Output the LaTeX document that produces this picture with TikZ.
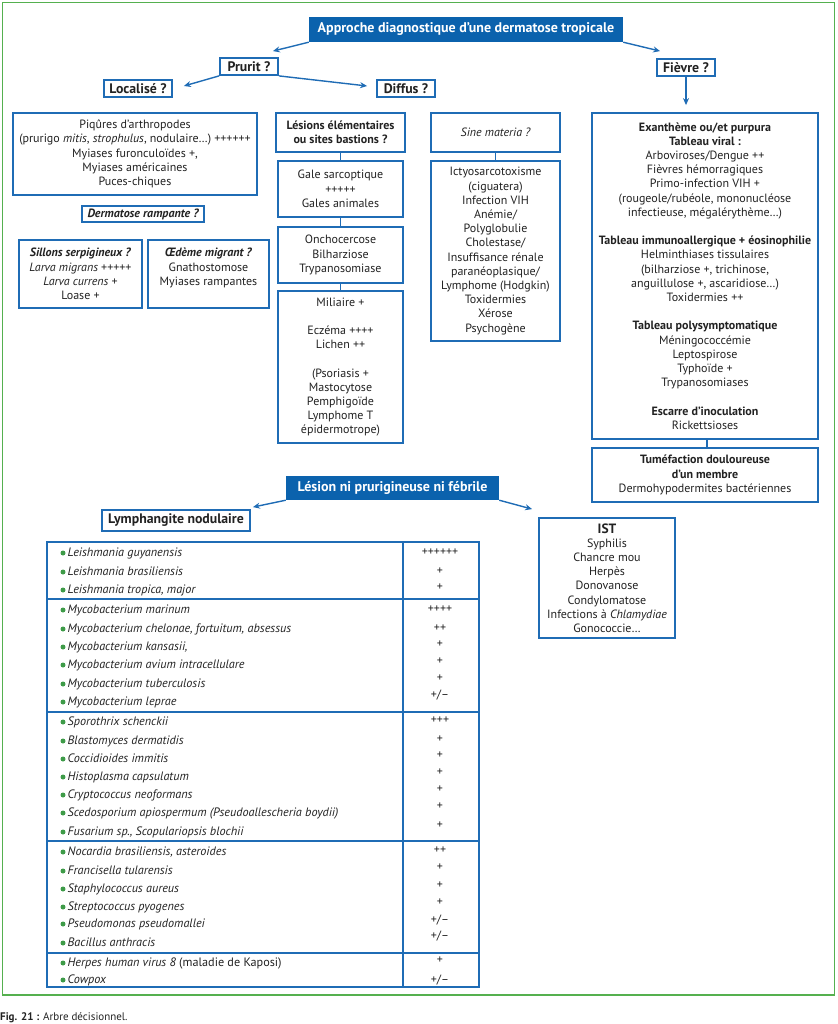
\documentclass[tikz,border=0pt]{standalone}
\usepackage{fontspec}
\setmainfont{PT Sans}
\usetikzlibrary{arrows.meta}
\definecolor{bblue}{HTML}{1F6CB5}
\definecolor{hblue}{HTML}{0B62AD}
\definecolor{gframe}{HTML}{55B04F}
\definecolor{gdot}{HTML}{3E9B48}
\definecolor{txt}{HTML}{222222}
\begin{document}
\begin{tikzpicture}[x=1pt,y=-1pt,
  every node/.style={font=\fontsize{12}{14.2}\selectfont, text=txt},
  box/.style={draw=bblue, line width=1.8pt, fill=white, align=center, inner sep=0pt},
  hdr/.style={fill=hblue, text=white, inner sep=0pt, font=\fontsize{14}{16}\selectfont\bfseries},
  qbox/.style={draw=bblue, line width=1.8pt, fill=white, inner sep=0pt, font=\fontsize{13.8}{16}\selectfont\bfseries},
  arr/.style={draw=bblue, line width=1.4pt, -{Stealth[length=7pt,width=6pt]}},
  conn/.style={draw=bblue, line width=1.8pt},
  row/.style={anchor=west, inner sep=0pt, text height=8.5pt, text depth=2.5pt, font=\fontsize{12.2}{14}\selectfont\itshape},
  val/.style={inner sep=0pt, text height=8.5pt, text depth=2.5pt, font=\fontsize{12}{14}\selectfont},
  dot/.style={circle, fill=gdot, inner sep=0pt, minimum size=5pt}
]
\useasboundingbox (0,0) rectangle (837,1024);
\draw[gframe, line width=1.6pt] (2.5,2.5) rectangle (834.5,995);

% headers
\node[hdr, minimum width=314pt, minimum height=25pt] (title) at (466,29.5) {Approche diagnostique d’une dermatose tropicale};
\node[qbox, minimum width=58pt, minimum height=17pt] (prurit) at (249,66.5) {Prurit ?};
\node[qbox, minimum width=68pt, minimum height=17pt] (loc) at (138,88.5) {Localisé ?};
\node[qbox, minimum width=58pt, minimum height=17pt] (diff) at (406,88.5) {Diffus ?};
\node[qbox, minimum width=58pt, minimum height=17pt] (fievre) at (686,67.5) {Fièvre ?};

\draw[arr] (title.south west) -- ([shift={(-6,-6)}]prurit.north east);
\draw[arr] (title.south east) -- ([shift={(4,-7)}]fievre.north west);
\draw[arr] (prurit.south west) -- ([shift={(11,-2.5)}]loc.east);
\draw[arr] (prurit.south east) -- ([shift={(-9,-2.5)}]diff.west);

% localise branch
\node[box, minimum width=244pt, minimum height=82pt] (piq) at (135,154) {Piqûres d’arthropodes\\(prurigo \textit{mitis}, \textit{strophulus}, nodulaire…) ++++++\\Myiases furonculoïdes +,\\Myiases américaines\\Puces-chiques};
\node[box, minimum width=122pt, minimum height=16pt, font=\fontsize{12}{14.2}\selectfont\bfseries\itshape] (derm) at (143,214) {Dermatose rampante ?};
\node[box, minimum width=123pt, minimum height=68pt] (sil) at (80.5,274) {\textbf{\textit{Sillons serpigineux ?}}\\\textit{Larva migrans} +++++\\\textit{Larva currens} +\\Loase +};
\node[box, minimum width=121pt, minimum height=68pt] (oed) at (208.5,274) {\textbf{\textit{Œdème migrant ?}}\\Gnathostomose\\Myiases rampantes\\\phantom{Loase +}};

% diffus branch
\node[box, minimum width=129pt, minimum height=39pt, font=\fontsize{12}{14.2}\selectfont\bfseries] (lesel) at (340.5,132.5) {Lésions élémentaires\\ou sites bastions ?};
\node[box, minimum width=125pt, minimum height=56pt] (gale) at (340.5,189) {Gale sarcoptique\\+++++\\Gales animales};
\node[box, minimum width=125pt, minimum height=56pt] (oncho) at (340.5,255) {Onchocercose\\Bilharziose\\Trypanosomiase};
\node[box, minimum width=125pt, minimum height=152pt] (mil) at (340.5,367) {Miliaire +\\[14.2pt]Eczéma ++++\\Lichen ++\\[14.2pt](Psoriasis +\\Mastocytose\\Pemphigoïde\\Lymphome T\\épidermotrope)};
\draw[conn] (lesel.south) -- (gale.north);
\draw[conn] (gale.south) -- (oncho.north);
\draw[conn] (oncho.south) -- (mil.north);

\node[box, minimum width=129pt, minimum height=39pt, font=\fontsize{12}{14.2}\selectfont\itshape] (sine) at (495.5,132.5) {Sine materia ?};
\node[box, minimum width=129pt, minimum height=180pt] (icty) at (495.5,251) {Ictyosarcotoxisme\\(ciguatera)\\Infection VIH\\Anémie/\\Polyglobulie\\Cholestase/\\Insuffisance rénale\\paranéoplasique/\\Lymphome (Hodgkin)\\Toxidermies\\Xérose\\Psychogène};
\draw[conn] (sine.south) -- (icty.north);

% fievre branch
\node[box, minimum width=226pt, minimum height=326pt] (fbox) at (705,276) {\textbf{Exanthème ou/et purpura}\\\textbf{Tableau viral :}\\Arboviroses/Dengue ++\\Fièvres hémorragiques\\Primo-infection VIH +\\(rougeole/rubéole, mononucléose\\infectieuse, mégalérythème…)\\[14.2pt]\textbf{Tableau immunoallergique + éosinophilie}\\Helminthiases tissulaires\\(bilharziose +, trichinose,\\anguillulose +, ascaridiose…)\\Toxidermies ++\\[14.2pt]\textbf{Tableau polysymptomatique}\\Méningococcémie\\Leptospirose\\Typhoïde +\\Trypanosomiases\\[14.2pt]\textbf{Escarre d’inoculation}\\Rickettsioses};
\node[box, minimum width=226pt, minimum height=54pt] (tum) at (705,475) {\textbf{Tuméfaction douloureuse}\\\textbf{d’un membre}\\Dermohypodermites bactériennes};
\path (fievre.south |- fbox.north) ++(0,-7) coordinate (ftip);
\draw[arr] (fievre.south) -- (ftip);
\path (fbox.south) ++(2,0) coordinate (fbot);
\draw[conn] (fbot) -- (fbot |- tum.north);

% lesion ni prurigineuse
\node[hdr, minimum width=213pt, minimum height=24pt] (lnp) at (392.5,488) {Lésion ni prurigineuse ni fébrile};
\node[qbox, minimum width=148pt, minimum height=21pt] (lymph) at (176,520.5) {Lymphangite nodulaire};
\node[box, minimum width=136pt, minimum height=120pt] (ist) at (607,578) {{\fontsize{13.5}{15}\selectfont\bfseries IST}\\Syphilis\\Chancre mou\\Herpès\\Donovanose\\Condylomatose\\Infections à \textit{Chlamydiae}\\Gonococcie…};
\draw[arr] (lnp.south west) -- ([shift={(2,-2)}]lymph.north east);
\draw[arr] (lnp.south east) -- ([shift={(-6,-8)}]ist.north west);

% table
\draw[bblue, line width=1.8pt] (47,542) rectangle (479,987);
\draw[bblue, line width=1.8pt] (403,542) -- (403,987);
\foreach \yy in {599,712,841,953} \draw[bblue, line width=1.8pt] (47,\yy) -- (479,\yy);

\foreach \nm/\yy/\tx in {
 r1/553/{Leishmania guyanensis},
 r2/572/{Leishmania brasiliensis},
 r3/590/{Leishmania tropica, major},
 r4/610/{Mycobacterium marinum},
 r5/629/{Mycobacterium chelonae, fortuitum, absessus},
 r6/647/{Mycobacterium kansasii,},
 r7/665/{Mycobacterium avium intracellulare},
 r8/684/{Mycobacterium tuberculosis},
 r9/702/{Mycobacterium leprae},
 r10/722/{Sporothrix schenckii},
 r11/741/{Blastomyces dermatidis},
 r12/759/{Coccidioides immitis},
 r13/777/{Histoplasma capsulatum},
 r14/795/{Cryptococcus neoformans},
 r15/813/{Scedosporium apiospermum (Pseudoallescheria boydii)},
 r16/832/{Fusarium sp., Scopulariopsis blochii},
 r17/852/{Nocardia brasiliensis, asteroides},
 r18/871/{Francisella tularensis},
 r19/889/{Staphylococcus aureus},
 r20/907/{Streptococcus pyogenes},
 r21/924/{Pseudomonas pseudomallei},
 r22/943/{Bacillus anthracis},
 r23/963/{Herpes human virus 8 \upshape(maladie de Kaposi)},
 r24/980/{Cowpox}}
{
 \node[dot] (\nm d) at (63,\yy) {};
 \node[row] (\nm) at (67.5,\yy) {\tx};
}

\foreach \nm/\yy/\tx in {
 v1/552/{++++++}, v2/571/{+}, v3/587/{+},
 v4/609/{++++}, v5/628/{++}, v6/644/{+}, v7/661/{+}, v8/678/{+}, v9/695/{+/–},
 v10/720/{+++}, v11/739/{+}, v12/755/{+}, v13/772/{+}, v14/789/{+}, v15/806/{+}, v16/825/{+},
 v17/850/{++}, v18/867/{+}, v19/885/{+}, v20/902/{+}, v21/920/{+/–}, v22/936/{+/–},
 v23/960/{+}, v24/980/{+/–}}
{
 \node[val] (\nm) at (440,\yy) {\tx};
}

% caption
\node[anchor=west, inner sep=0pt, font=\fontsize{11}{13}\selectfont] (cap) at (0,1018) {\textbf{Fig. 21 :} Arbre décisionnel.};
\end{tikzpicture}
\end{document}
